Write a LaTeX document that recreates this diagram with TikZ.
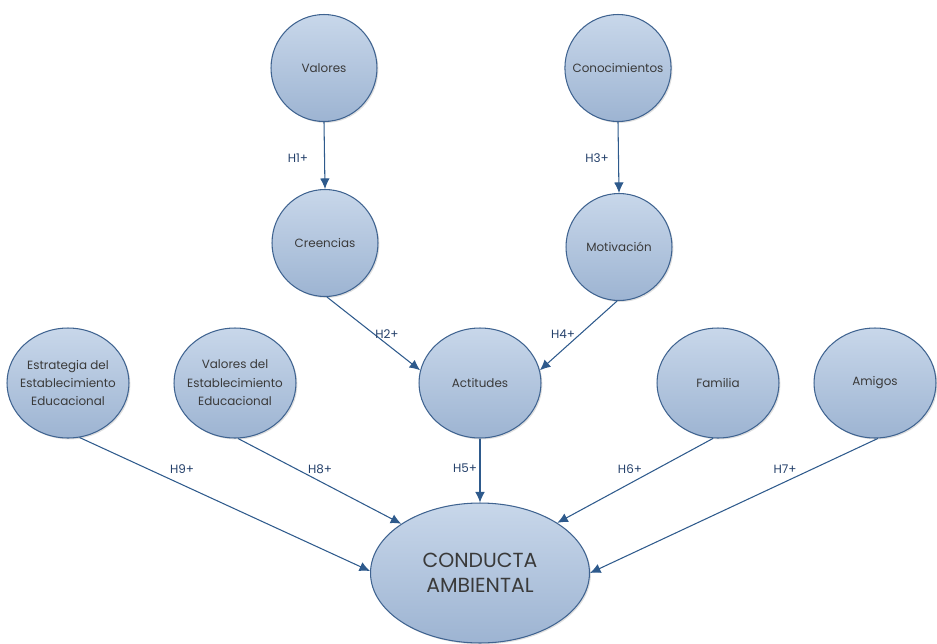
\documentclass[tikz,border=0pt]{standalone}
\usepackage{fontspec}
\setmainfont{Poppins}
\usetikzlibrary{shapes.geometric,arrows.meta,shadows}
\definecolor{hborde}{HTML}{3F6390}
\definecolor{harriba}{HTML}{C8D7EA}
\definecolor{habajo}{HTML}{9DB4D2}
\definecolor{hflecha}{HTML}{2E5A8C}
\definecolor{hletra}{HTML}{3A3A3A}
\definecolor{hetiq}{HTML}{24406A}
\begin{document}
\begin{tikzpicture}[x=0.02cm,y=-0.02cm,
		var/.style={ellipse,draw=hborde,line width=0.6pt,top color=harriba,bottom color=habajo,text=hletra,align=center,inner sep=0pt,font=\fontsize{6.8}{10.5}\selectfont,drop shadow={shadow xshift=0.8pt,shadow yshift=-0.8pt,opacity=0.25}},
		chica/.style={var,minimum width=2.12cm,minimum height=2.14cm},
		grande/.style={var,minimum width=2.44cm,minimum height=2.2cm},
		hip/.style={draw=hflecha,line width=0.6pt,-{Latex[length=6pt,width=5.5pt]}},
		etq/.style={text=hetiq,font=\fontsize{6.8}{8}\selectfont}]
		\useasboundingbox (0,0) rectangle (937,643);
		\node[chica] (valores) at (324,68) {Valores};
		\node[chica,inner xsep=-4.5pt] (conoc) at (618,68) {Conocimientos};
		\node[chica] (creencias) at (325,243) {Creencias};
		\node[chica] (motiv) at (619,247) {Motivación};
		\node[grande,inner xsep=-3pt] (estrat) at (68,383) {Estrategia del\\Establecimiento\\Educacional};
		\node[grande,inner xsep=-3pt] (valest) at (235,383) {Valores del\\Establecimiento\\Educacional};
		\node[grande] (actit) at (480,383) {Actitudes};
		\node[grande] (familia) at (718,383) {Familia};
		\node[grande] (amigos) at (875,383) {Amigos};
		\node[var,minimum width=4.38cm,minimum height=2.8cm,font=\fontsize{11.6}{14.5}\selectfont] (conducta) at (480,573) {CONDUCTA\\AMBIENTAL};
		\draw[hip] (valores.south) -- (creencias.north);
		\draw[hip] (conoc.south) -- (motiv.north);
		\draw[hip] (creencias.-88) -- (actit.168);
		\draw[hip] (motiv.-92) -- (actit.12);
		\draw[hip] (actit.south) -- (conducta.north);
		\draw[hip] (estrat.-78) -- (conducta.179);
		\draw[hip] (valest.-87) -- (conducta.148);
		\draw[hip] (familia.-95) -- (conducta.33);
		\draw[hip] (amigos.-87) -- (conducta.0);
		\node[etq] (h1) at (298,158) {H1+};
		\node[etq] (h3) at (597,158) {H3+};
		\node[etq] (h2) at (387,334) {H2+};
		\node[etq] (h4) at (563,334) {H4+};
		\node[etq] (h5) at (465,468) {H5+};
		\node[etq] (h9) at (182,469) {H9+};
		\node[etq] (h8) at (320,469) {H8+};
		\node[etq] (h6) at (630,469) {H6+};
		\node[etq] (h7) at (785,469) {H7+};
\end{tikzpicture}
\end{document}
